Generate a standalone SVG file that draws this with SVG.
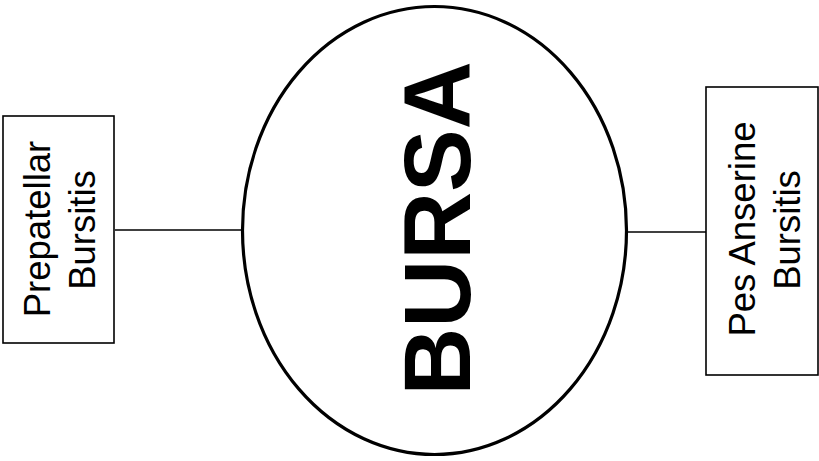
<svg xmlns="http://www.w3.org/2000/svg" width="819" height="461" viewBox="0 0 819 461">
<style>
.box{fill:#fff;stroke:#000;stroke-width:1.6}
.conn{stroke:#000;stroke-width:1.6;fill:none}
.lbl{font-family:"Liberation Sans",Arial,sans-serif;font-size:36.5px;fill:#000;text-anchor:middle}
.big{font-family:"Liberation Sans",Arial,sans-serif;font-size:94px;font-weight:bold;fill:#000;text-anchor:middle}
</style>
<rect width="819" height="461" fill="#fff"/>
<g id="connectors">
<line class="conn" x1="115" y1="230" x2="241" y2="230"/>
<line class="conn" x1="627" y1="232" x2="706" y2="232"/>
</g>
<g id="bursa">
<ellipse cx="434.5" cy="230.5" rx="192" ry="224" fill="none" stroke="#000" stroke-width="3.2"/>
<text class="big" transform="translate(470,228.5) rotate(-90)">BURSA</text>
</g>
<g id="prepatellar">
<rect class="box" x="3" y="116" width="111" height="227"/>
<text class="lbl" transform="translate(50,229) rotate(-90)">Prepatellar</text>
<text class="lbl" transform="translate(95,230) rotate(-90)">Bursitis</text>
</g>
<g id="pes-anserine">
<rect class="box" x="706" y="87" width="112" height="288"/>
<text class="lbl" transform="translate(755,229) rotate(-90)">Pes Anserine</text>
<text class="lbl" transform="translate(800,230) rotate(-90)">Bursitis</text>
</g>
</svg>
